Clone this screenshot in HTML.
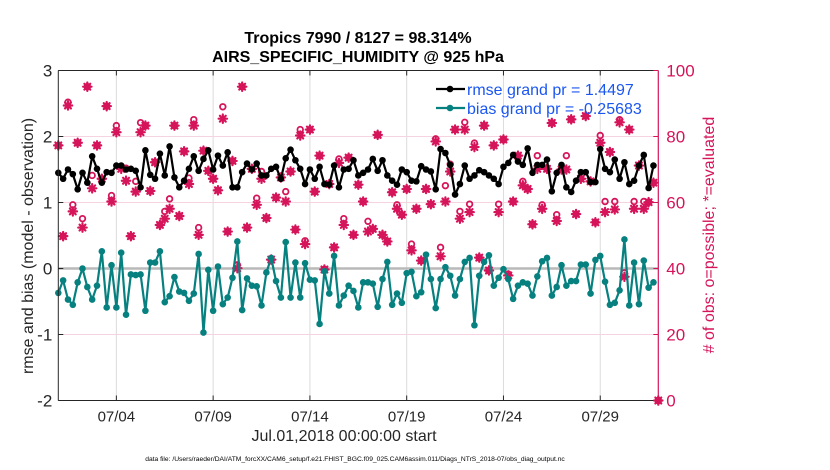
<!DOCTYPE html>
<html><head><meta charset="utf-8"><style>
body{margin:0;background:#fff;}
svg{display:block;font-family:"Liberation Sans",sans-serif;}
</style></head><body>
<svg id="chart" width="830" height="470" viewBox="0 0 830 470"></svg>
<script>
const rmse=[1.45,1.36,1.50,1.43,1.20,1.45,1.30,1.70,1.51,1.30,1.46,1.45,1.56,1.56,1.50,1.51,1.48,1.23,1.79,1.42,1.36,1.74,1.41,1.85,1.38,1.23,1.33,1.51,1.70,1.48,1.66,1.79,1.50,1.71,1.56,1.76,1.23,1.23,1.46,1.59,1.50,1.59,1.41,1.41,1.51,1.54,1.36,1.67,1.80,1.64,1.51,1.28,1.50,1.36,1.54,1.28,1.27,1.56,1.23,1.50,1.51,1.64,1.41,1.45,
1.50,1.66,1.48,1.64,1.41,1.33,1.27,1.50,1.46,1.33,1.32,1.55,1.50,1.47,1.20,1.81,1.75,1.57,1.12,1.28,1.56,1.36,1.41,1.49,1.46,1.41,1.36,1.28,1.54,1.60,1.72,1.62,1.57,1.82,1.45,1.57,1.57,1.65,1.17,1.45,1.57,1.23,1.16,1.33,1.46,1.46,1.31,1.31,1.81,1.51,1.46,1.65,1.36,1.61,1.28,1.33,1.56,1.72,1.22,1.56,null];
const bias=[-0.37,-0.18,-0.47,-0.55,-0.21,0.0,-0.28,-0.47,-0.26,0.26,-0.59,0.05,-0.59,0.24,-0.70,-0.09,-0.10,-0.09,-0.64,0.09,0.09,0.26,-0.51,-0.42,-0.13,-0.35,-0.37,-0.49,-0.38,0.22,-0.97,-0.02,-0.64,0.03,-0.54,-0.44,-0.14,0.41,-0.63,-0.15,-0.26,-0.27,-0.56,-0.06,0.16,-0.19,-0.44,0.40,-0.44,0.09,-0.44,0.08,-0.17,-0.18,-0.84,-0.04,-0.38,0.19,-0.56,-0.41,-0.26,-0.34,-0.59,-0.21,
-0.21,-0.23,-0.58,-0.16,0.10,-0.55,-0.38,-0.52,-0.07,-0.05,-0.42,-0.36,0.21,-0.16,-0.60,-0.16,0.02,-0.11,-0.41,-0.16,0.10,0.16,-0.86,-0.11,0.10,0.20,-0.26,-0.14,-0.01,-0.16,-0.46,-0.26,-0.21,-0.23,-0.41,-0.12,0.11,0.16,-0.41,-0.28,0.05,-0.26,-0.19,-0.19,0.06,0.06,-0.38,0.13,0.19,-0.20,-0.55,-0.52,-0.33,0.44,-0.56,0.09,-0.54,0.12,-0.29,-0.21,null];
const nEval=[77.3,49.8,89.4,57.3,78.1,52.4,95.1,64.3,77.3,67.2,89.2,60.3,81.3,70.2,66.6,49.8,63.3,81.3,83.3,63.5,72.2,53.2,55.1,58.1,83.3,55.9,75.5,65.6,83.3,50.2,75.7,69.6,67.2,63.7,85.4,51.2,72.6,40.1,95.1,52.4,70.2,59.3,67.2,55.3,42.7,61.5,67.6,60.3,69.4,51.8,80.3,47.4,82.1,63.3,74.2,39.7,65.6,46.4,72.0,53.2,73.6,50.2,65.4,60.3,
51.2,52.0,80.5,50.2,48.2,63.1,58.1,56.3,64.1,45.5,58.1,42.4,64.1,59.5,78.5,43.7,60.3,69.4,82.1,55.1,82.1,57.1,76.8,43.3,83.3,39.4,77.3,57.1,79.1,37.9,60.3,74.2,65.2,64.1,53.4,70.2,58.1,70.2,84.1,54.4,70.0,70.0,85.2,56.5,67.2,86.2,66.4,54.0,78.1,57.1,75.3,57.9,84.3,37.5,82.1,58.1,71.2,58.1,60.1,66.0,0];
const nPoss=[77.3,49.8,90.4,59.3,78.1,55.1,95.1,68.2,77.3,67.2,89.2,62.1,83.3,71.0,70.4,49.8,66.4,84.2,83.3,63.5,72.2,53.2,57.3,61.1,83.3,55.9,75.5,67.4,85.1,52.4,75.7,69.6,67.2,63.7,89.0,51.2,72.6,41.1,95.1,52.4,70.2,61.3,69.4,55.3,42.7,61.5,67.6,63.3,69.4,51.8,82.1,48.4,82.1,63.3,74.2,39.7,65.6,46.4,73.2,55.1,73.6,50.2,65.4,60.3,
54.3,52.0,80.5,50.2,48.2,63.1,59.3,56.3,64.1,47.4,58.1,42.4,64.1,59.5,79.3,46.4,65.1,71.6,82.1,57.3,84.3,59.5,78.0,43.3,83.3,39.4,77.3,59.5,79.1,38.3,60.3,74.2,66.4,64.1,53.4,74.2,59.3,70.2,84.1,56.3,70.0,74.2,85.2,56.5,67.2,86.2,66.4,54.0,80.3,60.3,75.3,60.3,85.1,38.7,82.1,60.3,71.2,60.3,60.1,66.0,0];
const leftTicks=[3,2,1,0,-1,-2];
const rightTicks=[100,80,60,40,20,0];
const dateTicks=[3,8,13,18,23,28];
const dateLabels=["07/04","07/09","07/14","07/19","07/24","07/29"];
const stepDays=0.25;

const NS="http://www.w3.org/2000/svg";
const svg=document.getElementById('chart');
const L=58.3,R=658.3,T=70.5,B=400.5;
const PINK="#d5145a",TEAL="#078080";
const xs=d=>L+d*(R-L)/31;
const yl=v=>B-(v+2)*(B-T)/5;
const yr=v=>B-v*(B-T)/100;
function el(tag,attrs,parent){const e=document.createElementNS(NS,tag);for(const k in attrs)e.setAttribute(k,attrs[k]);(parent||svg).appendChild(e);return e;}
function txt(s,attrs,parent){const e=el('text',attrs,parent);e.textContent=s;return e;}

const grid=el('g',{});


dateTicks.forEach(d=>{el('line',{x1:xs(d),x2:xs(d),y1:T,y2:B,stroke:'#dcdcdc','stroke-width':1},grid);});
leftTicks.forEach(v=>{el('line',{x1:L,x2:R,y1:yl(v),y2:yl(v),stroke:'#f6d3e0','stroke-width':1},grid);});
el('line',{x1:L,x2:R,y1:yl(0),y2:yl(0),stroke:'#b9b9b9','stroke-width':2.5},grid);

const cnt=el('g',{});


function star(x,y,p){const g=el('g',{stroke:PINK,'stroke-width':2.2,'stroke-linecap':'round'},p);
  const r=4.2;[[0,1],[1,0],[0.7,0.7],[0.7,-0.7]].forEach(([a,b])=>el('line',{x1:x-a*r,y1:y-b*r,x2:x+a*r,y2:y+b*r},g));
  el('circle',{cx:x,cy:y,r:2.6,fill:PINK,stroke:'none'},g);return g;}
nPoss.forEach((v,i)=>{const c=el('circle',{cx:xs(i*stepDays),cy:yr(v),r:2.8,fill:'none',stroke:PINK,'stroke-width':1.8},cnt);
  
  });
nEval.forEach((v,i)=>{const s=star(xs(i*stepDays),yr(v),cnt);
  
  });

function series(arr,color,name){
  const g=el('g',{});
  
  
  let d='';arr.forEach((v,i)=>{if(v===null)return;d+=(d?'L':'M')+xs(i*stepDays).toFixed(1)+' '+yl(v).toFixed(1);});
  el('path',{d:d,fill:'none',stroke:color,'stroke-width':2.2,'stroke-linejoin':'round'},g);
  arr.forEach((v,i)=>{if(v===null)return;const c=el('circle',{cx:xs(i*stepDays),cy:yl(v),r:3.3,fill:color},g);
    
    });
}
series(rmse,'#000','rmse-line');
series(bias,TEAL,'bias-line');

const ax=el('g',{});


el('line',{x1:L,x2:R,y1:T,y2:T,stroke:'#262626','stroke-width':1},ax);
el('line',{x1:L,x2:R,y1:B,y2:B,stroke:'#262626','stroke-width':1},ax);
el('line',{x1:L,x2:L,y1:T,y2:B,stroke:'#262626','stroke-width':1},ax);
el('line',{x1:R,x2:R,y1:T,y2:B,stroke:PINK,'stroke-width':1.2},ax);
leftTicks.forEach(v=>{el('line',{x1:L,x2:L+5,y1:yl(v),y2:yl(v),stroke:'#262626'},ax);
  el('line',{x1:R,x2:R-5,y1:yl(v),y2:yl(v),stroke:PINK},ax);
  const t=txt(String(v),{x:L-6,y:yl(v)+6,'text-anchor':'end','font-size':17,fill:'#262626'},ax);
  
  });
rightTicks.forEach(v=>{const t=txt(String(v),{x:R+8,y:yr(v)+6,'font-size':17,fill:PINK},ax);
  
  });
dateTicks.forEach((d,i)=>{el('line',{x1:xs(d),x2:xs(d),y1:B,y2:B-5,stroke:'#262626'},ax);
  el('line',{x1:xs(d),x2:xs(d),y1:T,y2:T+5,stroke:'#262626'},ax);
  const t=txt(dateLabels[i],{x:xs(d),y:B+21,'text-anchor':'middle','font-size':15,fill:'#262626'},ax);
  
  });
el('path',{d:`M${R-4} ${B}L${R} ${B-4}L${R+4} ${B}L${R} ${B+4}Z`,fill:PINK},ax);
</script>
<div style="position:absolute;left:0;top:0;width:830px;height:470px;pointer-events:none;">
<svg width="830" height="470" style="position:absolute;left:0;top:0;font-family:'Liberation Sans',sans-serif;">
  <text x="358" y="43" text-anchor="middle" font-size="16" font-weight="bold" fill="#000">Tropics 7990 / 8127 = 98.314%</text>
  <text x="358" y="62" text-anchor="middle" font-size="16" font-weight="bold" fill="#000">AIRS_SPECIFIC_HUMIDITY @ 925 hPa</text>
  <text transform="translate(33,246) rotate(-90)" text-anchor="middle" font-size="16" fill="#262626">rmse and bias (model - observation)</text>
  <text transform="translate(714,235) rotate(-90)" text-anchor="middle" font-size="16" fill="#d5145a"># of obs: o=possible; *=evaluated</text>
  <text x="344" y="441" text-anchor="middle" font-size="16" fill="#262626">Jul.01,2018 00:00:00 start</text>
  <text x="355" y="461" text-anchor="middle" font-size="6.7" fill="#000">data file: /Users/raeder/DAI/ATM_forcXX/CAM6_setup/f.e21.FHIST_BGC.f09_025.CAM6assim.011/Diags_NTrS_2018-07/obs_diag_output.nc</text>
  <g>
    <g>
      <line x1="436" x2="465" y1="89" y2="89" stroke="#000" stroke-width="2.2"/>
      <circle cx="450" cy="89" r="3.3" fill="#000"/>
      <text x="467" y="95" font-size="16" fill="#1a56f0">rmse grand pr = 1.4497</text>
    </g>
    <g>
      <line x1="436" x2="465" y1="108" y2="108" stroke="#078080" stroke-width="2.2"/>
      <circle cx="450" cy="108" r="3.3" fill="#078080"/>
      <text x="467" y="114" font-size="16" fill="#1a56f0">bias grand pr = -0.25683</text>
    </g>
  </g>
</svg>
</div>
</body></html>
